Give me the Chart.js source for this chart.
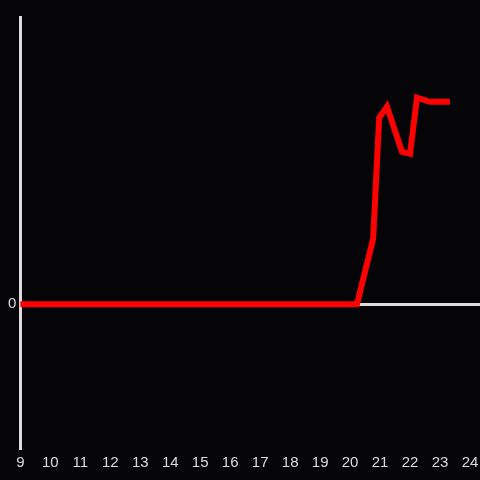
<!DOCTYPE html>
<html>
<head>
<meta charset="utf-8">
<script src="https://cdn.jsdelivr.net/npm/chart.js@4"></script>
<style>
    html, body { margin: 0; padding: 0; background: #050407; }
    #wrap { width: 480px; height: 480px; }
</style>
</head>
<body>
<div id="wrap"><canvas id="graph"></canvas></div>
<script>
// horas do dia (eixo x) e valores da serie
var hours = [8.9, 12, 15, 18, 20.23, 20.77, 20.97, 21.23, 21.73, 22.0, 22.23, 22.67, 23.33];
var values = [0, 0, 0, 0, 0, 22.9, 64.9, 68.8, 53.1, 52.4, 71.9, 70.5, 70.5];
var xTicks = [9, 10, 11, 12, 13, 14, 15, 16, 17, 18, 19, 20, 21, 22, 23, 24];
var yTicks = [0];

var axisColor = '#dcdcdc';

var bgPlugin = {
    id: 'bg',
    beforeDraw: function (chart) {
        var ctx = chart.ctx;
        ctx.save();
        ctx.fillStyle = '#050407';
        ctx.fillRect(0, 0, chart.width, chart.height);
        ctx.restore();
    }
};

var ctx = document.getElementById('graph').getContext('2d');
var chart = new Chart(ctx, {
    type: 'line',
    data: {
        datasets: [{
            data: hours.map(function (h, i) { return { x: h, y: values[i] }; }),
            borderColor: '#ff0000',
            backgroundColor: '#ff0000',
            borderWidth: 6,
            pointRadius: 0,
            tension: 0,
            fill: false
        }]
    },
    options: {
        responsive: true,
        maintainAspectRatio: false,
        animation: false,
        layout: { padding: { top: 17, left: 4, right: 0, bottom: 2 } },
        plugins: {
            legend: { display: false },
            tooltip: { enabled: false }
        },
        scales: {
            x: {
                type: 'linear',
                min: 9,
                max: 24.333,
                afterBuildTicks: function (axis) {
                    axis.ticks = xTicks.map(function (v) { return { value: v }; });
                },
                afterFit: function (axis) {
                    axis.paddingLeft = 0;
                    axis.paddingRight = 0;
                },
                grid: { display: false, drawTicks: false },
                border: { display: false },
                ticks: {
                    color: axisColor,
                    padding: 6,
                    maxRotation: 0,
                    autoSkip: false,
                    font: { family: 'Liberation Sans, Arial, sans-serif', size: 15 }
                }
            },
            y: {
                min: -50,
                max: 100,
                afterBuildTicks: function (axis) {
                    axis.ticks = yTicks.map(function (v) { return { value: v }; });
                },
                grid: {
                    drawTicks: false,
                    lineWidth: 3,
                    color: function (c) { return c.tick && c.tick.value === 0 ? axisColor : 'rgba(0,0,0,0)'; }
                },
                border: { display: true, color: axisColor, width: 3 },
                ticks: {
                    color: axisColor,
                    padding: 4,
                    font: { family: 'Liberation Sans, Arial, sans-serif', size: 15 }
                }
            }
        }
    },
    plugins: [bgPlugin]
});
</script>
</body>
</html>
